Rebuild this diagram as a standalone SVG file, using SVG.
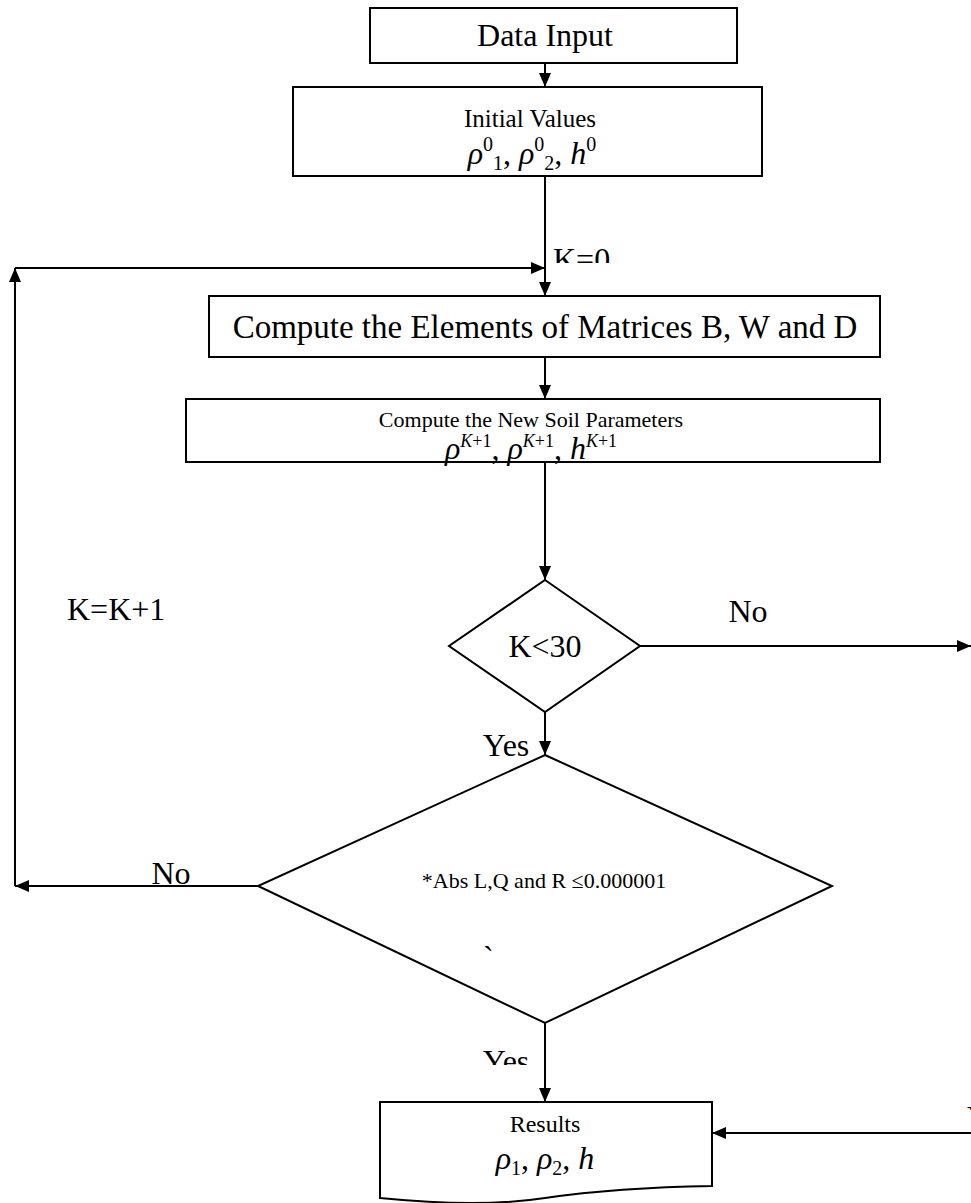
<svg xmlns="http://www.w3.org/2000/svg" width="971" height="1203" viewBox="0 0 971 1203" font-family="'Liberation Serif','Times New Roman',serif">
<style>
.box{fill:#fff;stroke:#000;stroke-width:2}
.ln{fill:none;stroke:#000;stroke-width:2}
text{font-family:"Liberation Serif","Times New Roman",serif;fill:#000}
.big{font-size:32px}
.sm{font-size:22px}
.it{font-style:italic}
.sup{font-size:18px}
.sub{font-size:20px}
</style>
<defs>
<marker id="ah" viewBox="0 0 14 12" refX="14" refY="6" markerWidth="14" markerHeight="12" markerUnits="userSpaceOnUse" orient="auto"><path d="M0,0 L14,6 L0,12 Z" fill="#000"/></marker>
<clipPath id="clipK0"><rect x="540" y="230" width="100" height="33"/></clipPath>
<clipPath id="clipYes"><rect x="460" y="1030" width="80" height="35"/></clipPath>
</defs>
<rect width="971" height="1203" fill="#fff"/>
<g id="connectors">
<path class="ln" d="M545,63 V87" marker-end="url(#ah)"/>
<path class="ln" d="M545,176 V296" marker-end="url(#ah)"/>
<path class="ln" d="M15,886 V268" marker-end="url(#ah)"/>
<path class="ln" d="M15,268 H545" marker-end="url(#ah)"/>
<path class="ln" d="M545,357 V399" marker-end="url(#ah)"/>
<path class="ln" d="M545,462 V580" marker-end="url(#ah)"/>
<path class="ln" d="M640,646 H971" marker-end="url(#ah)"/>
<path class="ln" d="M545,712 V755" marker-end="url(#ah)"/>
<path class="ln" d="M258,886 H15" marker-end="url(#ah)"/>
<path class="ln" d="M545,1023 V1102" marker-end="url(#ah)"/>
<path class="ln" d="M971,1133 H712" marker-end="url(#ah)"/>
<text class="big" x="553" y="270" clip-path="url(#clipK0)">K=0</text>
<text class="big" x="67" y="620">K=K+1</text>
<text class="big" x="748" y="622" text-anchor="middle">No</text>
<text class="big" x="506" y="756" text-anchor="middle">Yes</text>
<text class="big" x="171" y="884" text-anchor="middle">No</text>
<text class="big" x="506" y="1072" text-anchor="middle" clip-path="url(#clipYes)">Yes</text>
<text class="big" x="967" y="1128">Yes</text>
</g>
<g id="data-input">
<rect class="box" x="370" y="8" width="367" height="55"/>
<text class="big" x="545" y="46" text-anchor="middle">Data Input</text>
</g>
<g id="initial-values">
<rect class="box" x="293" y="87" width="469" height="89"/>
<text x="530" y="127" text-anchor="middle" style="font-size:25px">Initial Values</text>
<text x="532" y="164" text-anchor="middle" style="font-size:32px"><tspan class="it">ρ</tspan><tspan class="sub" dy="-13">0</tspan><tspan class="sub" dy="19">1</tspan><tspan dy="-6">, </tspan><tspan class="it">ρ</tspan><tspan class="sub" dy="-13">0</tspan><tspan class="sub" dy="19">2</tspan><tspan dy="-6">, </tspan><tspan class="it">h</tspan><tspan class="sub" dy="-13">0</tspan></text>
</g>
<g id="compute-matrices">
<rect class="box" x="209" y="296" width="671" height="61"/>
<text x="545" y="338" text-anchor="middle" style="font-size:33px">Compute the Elements of Matrices B, W and D</text>
</g>
<g id="compute-soil">
<rect class="box" x="186" y="399" width="694" height="63"/>
<text x="531" y="427" text-anchor="middle" style="font-size:22px">Compute the New Soil Parameters</text>
<text x="531" y="459" text-anchor="middle" style="font-size:32px"><tspan class="it">ρ</tspan><tspan class="sup" dy="-12"><tspan class="it">K</tspan>+1</tspan><tspan dy="12">, </tspan><tspan class="it">ρ</tspan><tspan class="sup" dy="-12"><tspan class="it">K</tspan>+1</tspan><tspan dy="12">, </tspan><tspan class="it">h</tspan><tspan class="sup" dy="-12"><tspan class="it">K</tspan>+1</tspan></text>
</g>
<g id="decision-k30">
<path class="box" d="M545,580 L640,646 L545,712 L449,646 Z"/>
<text class="big" x="545" y="657" text-anchor="middle">K&lt;30</text>
</g>
<g id="decision-abs">
<path class="box" d="M545,755 L832,886 L545,1023 L258,886 Z"/>
<text class="sm" x="544" y="888" text-anchor="middle">*Abs L,Q and R ≤0.000001</text>
<text class="big" x="483" y="968">`</text>
</g>
<g id="results">
<path class="box" d="M380,1102 H712 V1186 C650,1187 600,1190 545,1198 C500,1205 440,1204 380,1198 Z"/>
<text x="545" y="1132" text-anchor="middle" style="font-size:24px">Results</text>
<text x="545" y="1169" text-anchor="middle" style="font-size:32px"><tspan class="it">ρ</tspan><tspan class="sub" dy="6">1</tspan><tspan dy="-6">, </tspan><tspan class="it">ρ</tspan><tspan class="sub" dy="6">2</tspan><tspan dy="-6">, </tspan><tspan class="it">h</tspan></text>
</g>
</svg>
